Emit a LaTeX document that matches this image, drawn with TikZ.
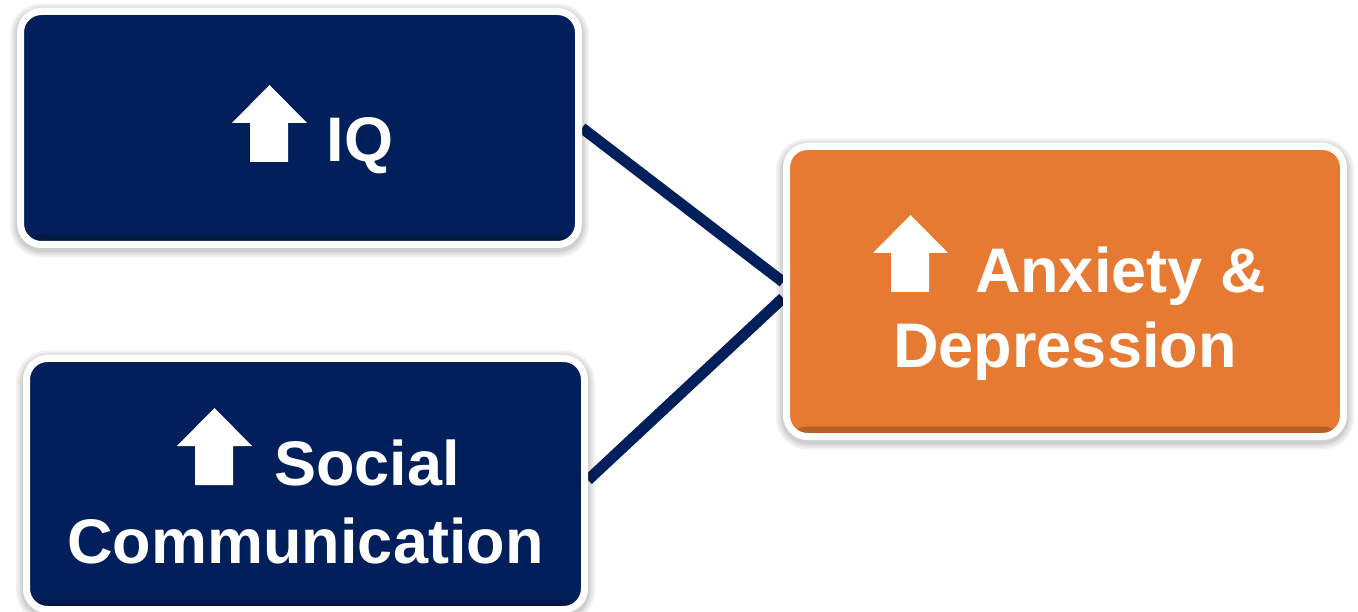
\documentclass[tikz,border=0pt]{standalone}
\usepackage{fontspec}
\setmainfont{Liberation Sans}
\usetikzlibrary{shadows,backgrounds}
\definecolor{navy}{RGB}{0,31,91}
\definecolor{orng}{RGB}{230,122,50}
\begin{document}
\begin{tikzpicture}[x=1pt,y=-1pt,
  halo/.style={general shadow={draw=black, fill=black, draw opacity=0.05, fill opacity=0.05, line width=#1, shadow xshift=0pt, shadow yshift=-2.5pt}},
  box/.style={fill=#1, draw=white, line width=7pt, rounded corners=21pt,
    inner sep=0pt, text=white, align=center,
    halo=21pt, halo=17pt, halo=13pt, halo=10pt,
    path picture={\shade[top color=#1, bottom color=#1!78!black]
      ([yshift=10pt]path picture bounding box.south west) rectangle (path picture bounding box.south east);}},
  link/.style={draw=navy, line width=11pt},
  pics/uparr/.style={code={\fill[white, sharp corners] (18,0) -- (56,0) -- (56,-39) -- (75,-39) -- (37.5,-77) -- (0,-39) -- (18,-39) -- cycle;}}
]
\useasboundingbox (0,0) rectangle (1358,612);

\node[box=navy, minimum width=558pt, minimum height=233pt, text height=68pt, text depth=0pt,
  font=\fontsize{63}{77}\selectfont\bfseries] (iq) at (299.5,128) {\hspace*{121.5pt}IQ};
\node[box=navy, minimum width=558pt, minimum height=251pt, text height=158pt, text depth=0pt,
  font=\fontsize{63}{78}\selectfont\bfseries] (sc) at (305.5,484) {\hspace*{122.6pt}Social\\Communication};
\node[box=orng, minimum width=557pt, minimum height=290pt, text height=151pt, text depth=0pt,
  font=\fontsize{63}{75}\selectfont\bfseries] (an) at (1065,291.5) {\hspace*{110.6pt}Anxiety \&\\Depression};

\pic at (232,162) {uparr};
\pic at (177,485) {uparr};
\pic at (873,292) {uparr};

\begin{scope}[on background layer]
\draw[link] (iq.east) -- ([yshift=9.5pt]an.west);
\draw[link] ([yshift=4pt]sc.east) -- ([yshift=-6.5pt]an.west);
\end{scope}
\end{tikzpicture}
\end{document}
